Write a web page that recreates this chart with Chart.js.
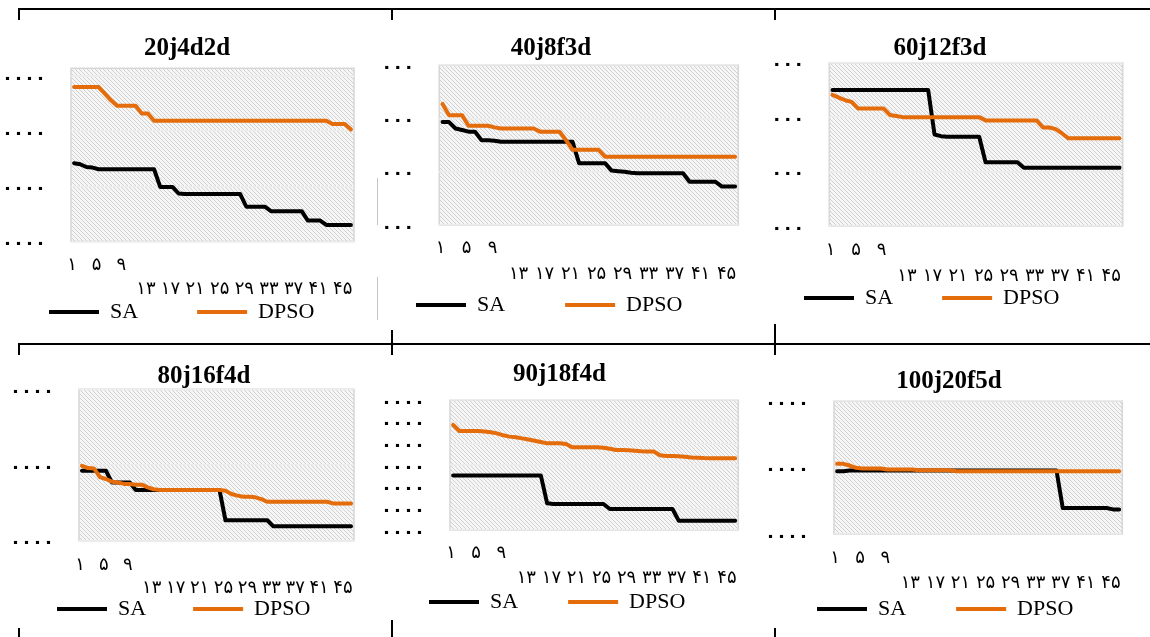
<!DOCTYPE html>
<html><head><meta charset="utf-8">
<script src="https://cdn.jsdelivr.net/npm/chart.js@4.4.1/dist/chart.umd.min.js"></script>
<style>
html,body{margin:0;padding:0;background:#fff;width:1150px;height:637px;overflow:hidden;}
body{position:relative;}
canvas{position:absolute;}
.ln{position:absolute;background:#000;}
.gl{position:absolute;background:#c4c4c4;}
</style></head><body>
<div class="ln" style="left:18px;top:8px;width:1132px;height:2px"></div>
<div class="ln" style="left:18px;top:8px;width:2px;height:12px"></div>
<div class="ln" style="left:391px;top:8px;width:2px;height:12px"></div>
<div class="ln" style="left:774px;top:8px;width:2px;height:12px"></div>
<div class="ln" style="left:18px;top:343px;width:1132px;height:2px"></div>
<div class="ln" style="left:18px;top:343px;width:2px;height:12px"></div>
<div class="ln" style="left:391px;top:330px;width:2px;height:25px"></div>
<div class="ln" style="left:774px;top:324px;width:2px;height:31px"></div>
<div class="ln" style="left:18px;top:628px;width:2px;height:9px"></div>
<div class="ln" style="left:391px;top:620px;width:2px;height:17px"></div>
<div class="ln" style="left:774px;top:628px;width:2px;height:9px"></div>
<div class="gl" style="left:377px;top:178px;width:1px;height:47px"></div>
<div class="gl" style="left:377px;top:277px;width:1px;height:43px"></div>
<script>
// ---------- data ----------
const iterations = ['۱','۲','۳','۴','۵','۶','۷','۸','۹','۱۰','۱۱','۱۲','۱۳','۱۴','۱۵','۱۶','۱۷','۱۸','۱۹','۲۰','۲۱','۲۲','۲۳','۲۴','۲۵','۲۶','۲۷','۲۸','۲۹','۳۰','۳۱','۳۲','۳۳','۳۴','۳۵','۳۶','۳۷','۳۸','۳۹','۴۰','۴۱','۴۲','۴۳','۴۴','۴۵','۴۶'];
const seriesNames = ['SA', 'DPSO'];
const chartTitles = ['20j4d2d', '40j8f3d', '60j12f3d', '80j16f4d', '90j18f4d', '100j20f5d'];

const sa20 = [1.42,1.40,1.35,1.34,1.31,1.31,1.31,1.31,1.31,1.31,1.31,1.31,1.31,1.31,0.99,0.99,0.99,0.87,0.86,0.86,0.86,0.86,0.86,0.86,0.86,0.86,0.86,0.86,0.63,0.63,0.63,0.63,0.55,0.55,0.55,0.55,0.55,0.55,0.38,0.38,0.38,0.30,0.30,0.30,0.30,0.30];
const dpso20 = [2.80,2.80,2.80,2.80,2.80,2.68,2.56,2.46,2.46,2.46,2.46,2.32,2.32,2.19,2.19,2.19,2.19,2.19,2.19,2.19,2.19,2.19,2.19,2.19,2.19,2.19,2.19,2.19,2.19,2.19,2.19,2.19,2.19,2.19,2.19,2.19,2.19,2.19,2.19,2.19,2.19,2.19,2.13,2.13,2.13,2.03];

const sa40 = [1.93,1.93,1.81,1.78,1.75,1.75,1.59,1.59,1.58,1.56,1.56,1.56,1.56,1.56,1.56,1.56,1.56,1.56,1.56,1.56,1.56,1.16,1.16,1.16,1.16,1.16,1.02,1.01,1.00,0.98,0.97,0.97,0.97,0.97,0.97,0.97,0.97,0.97,0.81,0.81,0.81,0.81,0.81,0.72,0.72,0.72];
const dpso40 = [2.27,2.06,2.06,2.06,1.86,1.86,1.86,1.86,1.83,1.81,1.81,1.81,1.81,1.81,1.81,1.75,1.75,1.75,1.75,1.59,1.41,1.41,1.41,1.41,1.41,1.28,1.28,1.28,1.28,1.28,1.28,1.28,1.28,1.28,1.28,1.28,1.28,1.28,1.28,1.28,1.28,1.28,1.28,1.28,1.28,1.28];

const sa60 = [2.50,2.50,2.50,2.50,2.50,2.50,2.50,2.50,2.50,2.50,2.50,2.50,2.50,2.50,2.50,2.50,1.68,1.65,1.64,1.64,1.64,1.64,1.64,1.64,1.17,1.17,1.17,1.17,1.17,1.17,1.07,1.07,1.07,1.07,1.07,1.07,1.07,1.07,1.07,1.07,1.07,1.07,1.07,1.07,1.07,1.07];
const dpso60 = [2.41,2.36,2.31,2.28,2.16,2.16,2.16,2.16,2.16,2.04,2.02,2.00,2.00,2.00,2.00,2.00,2.00,2.00,2.00,2.00,2.00,2.00,2.00,2.00,1.94,1.94,1.94,1.94,1.94,1.94,1.94,1.94,1.94,1.81,1.81,1.78,1.70,1.61,1.61,1.61,1.61,1.61,1.61,1.61,1.61,1.61];

const sa80 = [0.925,0.925,0.925,0.925,0.925,0.77,0.77,0.77,0.77,0.67,0.67,0.67,0.67,0.67,0.67,0.67,0.67,0.67,0.67,0.67,0.67,0.67,0.67,0.67,0.27,0.27,0.27,0.27,0.27,0.27,0.27,0.27,0.19,0.19,0.19,0.19,0.19,0.19,0.19,0.19,0.19,0.19,0.19,0.19,0.19,0.19];
const dpso80 = [0.99,0.96,0.955,0.84,0.815,0.78,0.77,0.75,0.75,0.74,0.74,0.705,0.68,0.67,0.67,0.67,0.67,0.67,0.67,0.67,0.67,0.67,0.67,0.67,0.66,0.617,0.595,0.58,0.58,0.573,0.55,0.515,0.515,0.515,0.515,0.515,0.515,0.515,0.515,0.515,0.515,0.515,0.493,0.493,0.493,0.493];

const sa90 = [2.51,2.51,2.51,2.51,2.51,2.51,2.51,2.51,2.51,2.51,2.51,2.51,2.51,2.51,2.51,1.23,1.20,1.20,1.20,1.20,1.20,1.20,1.20,1.20,1.20,0.97,0.97,0.97,0.97,0.97,0.97,0.97,0.97,0.97,0.97,0.97,0.43,0.43,0.43,0.43,0.43,0.43,0.43,0.43,0.43,0.43];
const dpso90 = [4.85,4.57,4.57,4.57,4.57,4.55,4.51,4.46,4.37,4.31,4.28,4.23,4.18,4.12,4.06,4.00,4.00,4.00,3.97,3.82,3.82,3.82,3.82,3.82,3.80,3.75,3.69,3.69,3.68,3.66,3.63,3.62,3.62,3.45,3.42,3.42,3.40,3.38,3.35,3.34,3.32,3.31,3.31,3.31,3.31,3.31];

const sa100 = [0.945,0.945,0.955,0.955,0.955,0.955,0.955,0.955,0.955,0.955,0.955,0.955,0.955,0.955,0.955,0.955,0.955,0.955,0.955,0.955,0.955,0.955,0.955,0.955,0.955,0.955,0.955,0.955,0.955,0.955,0.955,0.955,0.955,0.955,0.955,0.955,0.39,0.39,0.39,0.39,0.39,0.39,0.39,0.39,0.37,0.37];
const dpso100 = [1.055,1.055,1.03,0.995,0.985,0.985,0.985,0.985,0.97,0.97,0.97,0.97,0.97,0.96,0.96,0.96,0.96,0.96,0.96,0.945,0.945,0.945,0.945,0.945,0.945,0.945,0.945,0.945,0.945,0.945,0.945,0.945,0.945,0.945,0.945,0.945,0.945,0.945,0.945,0.945,0.945,0.945,0.945,0.945,0.945,0.945];

// y ticks (grid steps) and their (clipped) labels
const yTicks20 = [0, 1, 2, 3];
const yTickLabels20 = ['۰۰۰۰', '۰۰۰۰', '۰۰۰۰', '۰۰۰۰'];
const yTicks40 = [0, 1, 2, 3];
const yTickLabels40 = ['۰۰۰', '۰۰۰', '۰۰۰', '۰۰۰'];
const yTicks60 = [0, 1, 2, 3];
const yTickLabels60 = ['۰۰۰', '۰۰۰', '۰۰۰', '۰۰۰'];
const yTicks80 = [0, 1, 2];
const yTickLabels80 = ['۰۰۰۰', '۰۰۰۰', '۰۰۰۰'];
const yTicks90 = [0, 1, 2, 3, 4, 5, 6];
const yTickLabels90 = ['۰۰۰۰', '۰۰۰۰', '۰۰۰۰', '۰۰۰۰', '۰۰۰۰', '۰۰۰۰', '۰۰۰۰'];
const yTicks100 = [0, 1, 2];
const yTickLabels100 = ['۰۰۰۰', '۰۰۰۰', '۰۰۰۰'];

// ---------- layout / style ----------
const SA_COLOR = '#000000';
const DPSO_COLOR = '#e46c0a';
const BOX_W = 50;
const LEG_FONT = 22;

const panels = [
  {title: chartTitles[0], sa: sa20, dpso: dpso20, yTicks: yTicks20, yLabels: yTickLabels20, yMax: 3.14,
   g: {TC: 187, text1: 110, lp: 59, PL: 71, PR: 354, PT: 68.3, PB: 241.5, TY: 48.7, LC: 312, xPad: 11.5, xLH: 24}},
  {title: chartTitles[1], sa: sa40, dpso: dpso40, yTicks: yTicks40, yLabels: yTickLabels40, yMax: 3,
   g: {TC: 551, text1: 476.7, lp: 60, PL: 439.3, PR: 738.3, PT: 65, PB: 225, TY: 48.7, LC: 305, xPad: 10, xLH: 26}},
  {title: chartTitles[2], sa: sa60, dpso: dpso60, yTicks: yTicks60, yLabels: yTickLabels60, yMax: 3,
   g: {TC: 940, text1: 865, lp: 49, PL: 829.3, PR: 1122.7, PT: 62.7, PB: 226, TY: 48.7, LC: 297.7, xPad: 11, xLH: 26}},
  {title: chartTitles[3], sa: sa80, dpso: dpso80, yTicks: yTicks80, yLabels: yTickLabels80, yMax: 2,
   g: {TC: 204, text1: 118.3, lp: 47, PL: 79, PR: 354, PT: 389.3, PB: 540.7, TY: 377, LC: 609, xPad: 12.8, xLH: 23}},
  {title: chartTitles[4], sa: sa90, dpso: dpso90, yTicks: yTicks90, yLabels: yTickLabels90, yMax: 6,
   g: {TC: 559.5, text1: 490, lp: 50, PL: 450, PR: 738.3, PT: 400, PB: 530, TY: 374.5, LC: 601.7, xPad: 10.5, xLH: 25}},
  {title: chartTitles[5], sa: sa100, dpso: dpso100, yTicks: yTicks100, yLabels: yTickLabels100, yMax: 2,
   g: {TC: 949, text1: 878, lp: 50, PL: 834, PR: 1122.3, PT: 401, PB: 534, TY: 381, LC: 609, xPad: 11.5, xLH: 25}}
];

const hatchTile = document.createElement('canvas');
hatchTile.width = 4; hatchTile.height = 4;
(function(){
  const g = hatchTile.getContext('2d');
  g.fillStyle = '#f6f6f6'; g.fillRect(0, 0, 4, 4);
  g.fillStyle = '#d0d0d0';
  for (let i = 0; i < 4; i++) g.fillRect(i, i, 1, 1);
})();

const hatchPlugin = {
  id: 'hatch',
  beforeDraw(chart) {
    const {ctx, chartArea: a} = chart;
    ctx.save();
    ctx.fillStyle = ctx.createPattern(hatchTile, 'repeat');
    ctx.fillRect(a.left, a.top, a.width, a.height);
    ctx.strokeStyle = '#d6d6d6';
    ctx.lineWidth = 1.5;
    ctx.strokeRect(a.left, a.top, a.width, a.height);
    ctx.restore();
  }
};

const DIGIT_FONT = "'Liberation Serif', 'DejaVu Sans'";

panels.forEach(p => {
  const g = p.g;
  const Rl = Math.round(g.text1 - BOX_W - LEG_FONT / 2 - g.lp);
  const Rr = Math.round(2 * g.TC - (g.text1 - BOX_W - LEG_FONT / 2 - g.lp));
  const W = Rr - Rl;
  let T = Math.round(g.TY - 12.5);
  let pb = g.PT - T - 25;
  if (pb < 0) { T = Math.floor(g.PT - 25); pb = g.PT - T - 25; }
  const H = Math.round(g.LC + 21 - T);
  const legendH = LEG_FONT + g.lp + 10;
  const Hx = Math.max(0, T + H - g.PB - legendH);

  const cv = document.createElement('canvas');
  cv.width = W; cv.height = H;
  cv.style.left = Rl + 'px'; cv.style.top = T + 'px';
  document.body.appendChild(cv);

  new Chart(cv, {
    type: 'line',
    data: {
      labels: iterations,
      datasets: [
        {label: seriesNames[0], data: p.sa, borderColor: SA_COLOR, backgroundColor: SA_COLOR, order: 1},
        {label: seriesNames[1], data: p.dpso, borderColor: DPSO_COLOR, backgroundColor: DPSO_COLOR, order: 0}
      ]
    },
    options: {
      responsive: false, animation: false, devicePixelRatio: 1,
      layout: {padding: 0},
      elements: {
        line: {borderWidth: 4, tension: 0, borderJoinStyle: 'round', borderCapStyle: 'round'},
        point: {radius: 0, hoverRadius: 0}
      },
      scales: {
        x: {
          type: 'category', offset: true,
          grid: {display: false, drawTicks: false}, border: {display: false},
          afterFit: s => { s.height = Hx; },
          ticks: {
            autoSkip: false, maxRotation: 0, minRotation: 0, color: '#000',
            mirror: true, padding: -(g.xPad + g.xLH), labelOffset: -2,
            font: {family: DIGIT_FONT, size: 18, lineHeight: g.xLH + 'px'},
            callback: (v, i) => (i % 4 !== 0) ? '' : (i < 12 ? [iterations[i], ''] : ['', iterations[i]])
          }
        },
        y: {
          type: 'linear', position: 'left', min: 0, max: p.yMax,
          afterBuildTicks: s => { s.ticks = p.yTicks.map(v => ({value: v})); },
          afterFit: s => { s.width = g.PL - Rl; },
          grid: {color: '#ececec', lineWidth: 1.5, drawTicks: true, tickLength: 23, tickColor: 'rgba(0,0,0,0)'},
          border: {display: false},
          ticks: {
            autoSkip: false, padding: 2, color: '#000', labelOffset: 3,
            font: {family: 'DejaVu Sans', size: 18, weight: 'bold'},
            callback: (v, i) => p.yLabels[i]
          }
        },
        yRight: {
          type: 'linear', position: 'right', display: true,
          grid: {display: false, drawTicks: false}, border: {display: false},
          ticks: {display: false},
          afterFit: s => { s.width = Math.max(0, Rr - g.PR); }
        }
      },
      plugins: {
        tooltip: {enabled: false},
        title: {
          display: true, text: p.title, color: '#000',
          font: {family: 'Liberation Serif', size: 25, weight: 'bold', lineHeight: 1},
          padding: {top: 0, bottom: pb}
        },
        legend: {
          position: 'bottom', align: 'start',
          labels: {
            boxWidth: BOX_W, boxHeight: 4, padding: g.lp, color: '#000',
            font: {family: 'Liberation Serif', size: LEG_FONT},
            sort: (a, b) => a.datasetIndex - b.datasetIndex,
            generateLabels: ch => Chart.defaults.plugins.legend.labels.generateLabels(ch)
              .map(it => Object.assign(it, {fillStyle: it.strokeStyle, lineWidth: 0}))
          }
        }
      }
    },
    plugins: [hatchPlugin]
  });
});
</script>
</body></html>
